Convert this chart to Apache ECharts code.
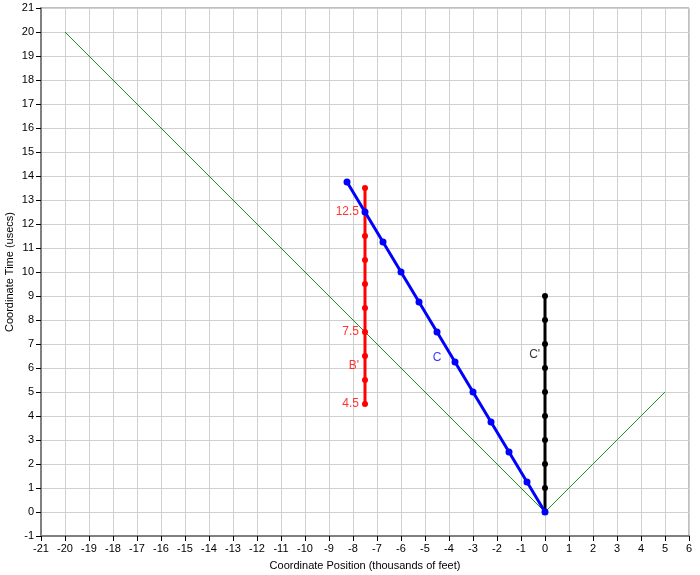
<!DOCTYPE html>
<html><head><meta charset="utf-8">
<script src="https://cdn.jsdelivr.net/npm/echarts@6/dist/echarts.min.js"></script>
<style>html,body{margin:0;padding:0;background:#fff}#c{width:700px;height:575px}</style>
</head><body><div id="c"></div>
<script>
const refLine = [[-20,20],[0,0],[5,5]];
const seriesC = [[-8.25,13.75],[-7.5,12.5],[-6.75,11.25],[-6,10],[-5.25,8.75],[-4.5,7.5],[-3.75,6.25],[-3,5],[-2.25,3.75],[-1.5,2.5],[-0.75,1.25],[0,0]];
const bX = -7.5;
const bTimes = [4.5,5.5,6.5,7.5,8.5,9.5,10.5,11.5,12.5,13.5];
const cpX = 0;
const cpTimes = [0,1,2,3,4,5,6,7,8,9];
const redLabels = [[-7.5,12.5,'12.5'],[-7.5,7.5,'7.5'],[-7.5,6.1,"B'"],[-7.5,4.5,'4.5']];
const blueLabels = [[-4.5,6.45,'C']];
const blackLabels = [[-0.43,6.55,"C'"]];

const font = 'Liberation Sans';
const chart = echarts.init(document.getElementById('c'));
function labelSeries(arr, color, pos){
  return {type:'scatter', data: arr.map(d=>({value:[d[0],d[1]], name:d[2]})), symbolSize:0, z:5,
    label:{show:true, position:pos, distance:6, formatter:p=>p.name, color:color, fontFamily:font, fontSize:12}, silent:true};
}
chart.setOption({
  animation:false,
  grid:{left:41, top:8, width:648, height:528, show:true, borderColor:'#808080', borderWidth:1, outerBoundsMode:'none', containLabel:false},
  xAxis:{type:'value', min:-21, max:6, interval:1,
    name:'Coordinate Position (thousands of feet)', nameLocation:'middle', nameGap:24, nameMoveOverlap:false,
    nameTextStyle:{color:'#000', fontFamily:font, fontSize:11},
    axisLine:{show:true, onZero:false, lineStyle:{color:'#808080', width:2}},
    axisTick:{show:true, length:5, lineStyle:{color:'#000'}},
    axisLabel:{color:'#000', fontFamily:font, fontSize:11, margin:7},
    splitLine:{show:true, lineStyle:{color:'#d0d0d0', width:1}}},
  yAxis:{type:'value', min:-1, max:21, interval:1,
    name:'Coordinate Time (usecs)', nameLocation:'middle', nameGap:31, nameMoveOverlap:false,
    nameTextStyle:{color:'#000', fontFamily:font, fontSize:11, verticalAlign:'middle'},
    axisLine:{show:true, onZero:false, lineStyle:{color:'#808080', width:2}},
    axisTick:{show:true, length:5, lineStyle:{color:'#000'}},
    axisLabel:{color:'#000', fontFamily:font, fontSize:11, margin:7},
    splitLine:{show:true, lineStyle:{color:'#d0d0d0', width:1}}},
  series:[
    {type:'line', data:refLine, symbol:'none', lineStyle:{color:'#119911', width:1}, z:2, silent:true},
    {type:'line', data:bTimes.map(t=>[bX,t]), symbol:'circle', symbolSize:6, itemStyle:{color:'#ff0000'}, lineStyle:{color:'#ff0000', width:3}, z:3},
    {type:'line', data:seriesC, symbol:'circle', symbolSize:7, itemStyle:{color:'#0000ff'}, lineStyle:{color:'#0000ff', width:3}, z:4},
    {type:'line', data:cpTimes.map(t=>[cpX,t]), symbol:'circle', symbolSize:6, itemStyle:{color:'#000'}, lineStyle:{color:'#000', width:3}, z:3},
    labelSeries(redLabels,'#ff0000','left'),
    labelSeries(blueLabels,'#0000ff','inside'),
    labelSeries(blackLabels,'#000000','inside')
  ]
});
</script></body></html>
